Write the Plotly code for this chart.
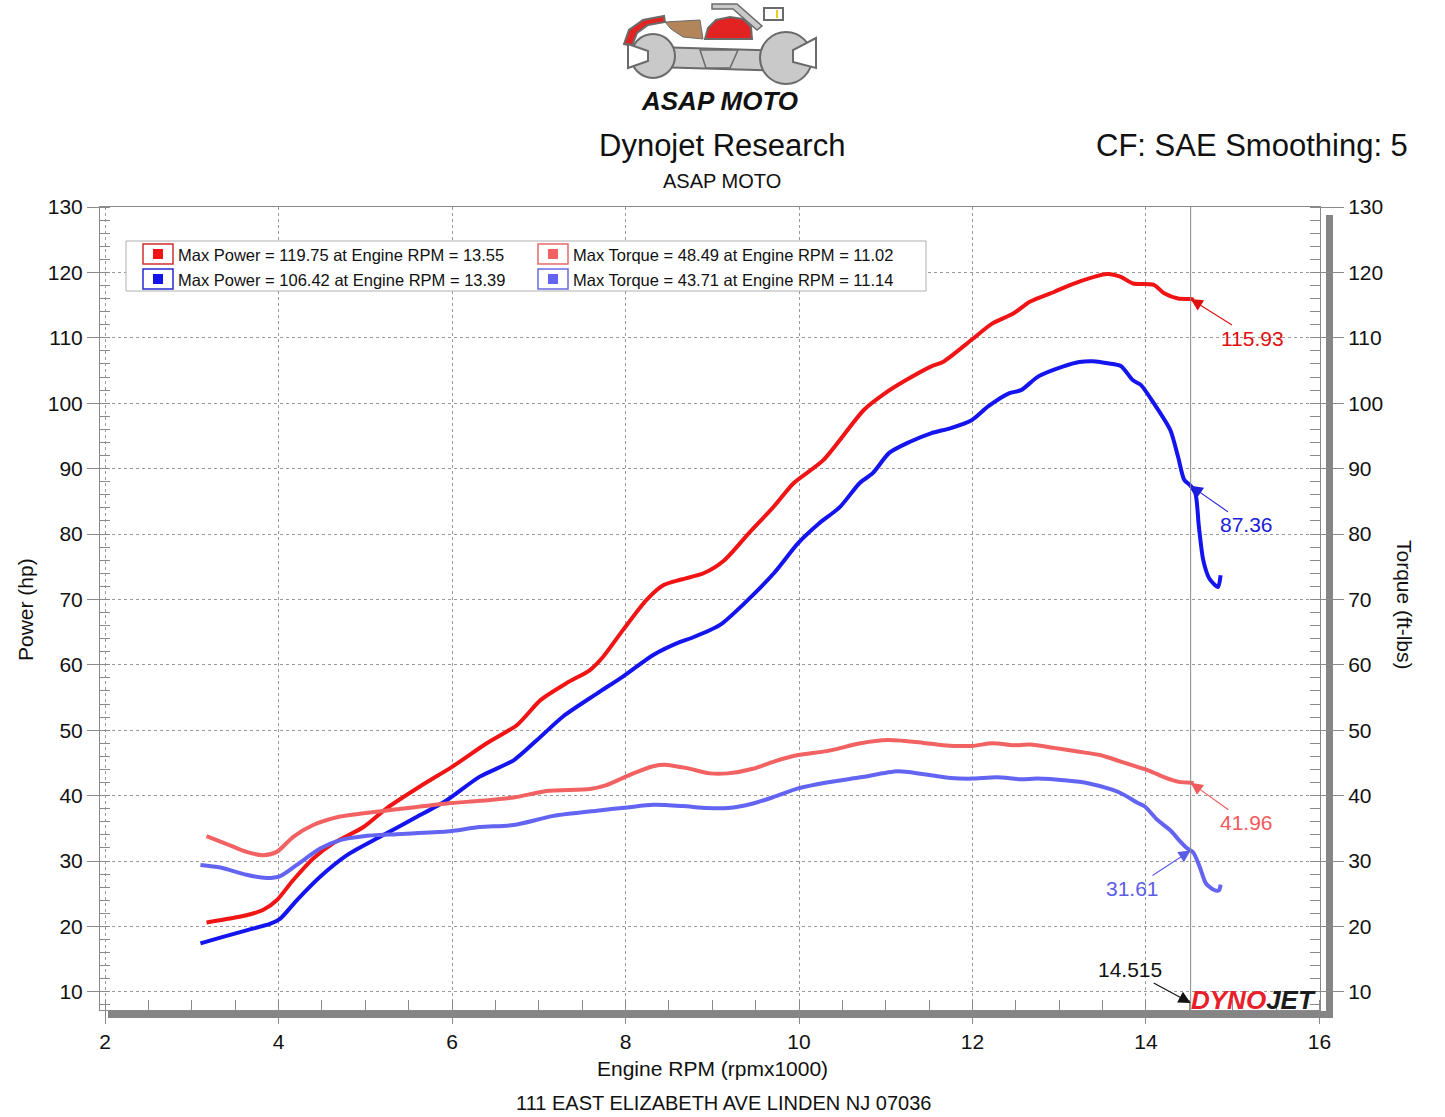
import plotly.graph_objects as go

# ---------------- data ----------------
red_power_rpm = [3.17, 3.44, 3.63, 3.82, 3.98, 4.17, 4.40, 4.63, 4.98, 5.25, 5.63, 6.00, 6.40, 6.75,
                 7.02, 7.32, 7.59, 7.74, 7.97, 8.24, 8.44, 8.63, 8.90, 9.14, 9.42, 9.71, 9.94, 10.28,
                 10.75, 10.99, 11.23, 11.52, 11.66, 11.99, 12.23, 12.47, 12.66, 12.94, 13.13, 13.55,
                 13.71, 13.85, 14.09, 14.21, 14.37, 14.515, 14.55]
red_power_hp = [20.6, 21.2, 21.7, 22.5, 24.0, 27.1, 30.4, 32.7, 35.2, 38.1, 41.4, 44.4, 48.0, 50.8,
                54.6, 57.2, 59.2, 61.2, 65.3, 69.9, 72.2, 73.0, 74.0, 76.0, 80.1, 84.2, 87.8, 91.3,
                99.0, 101.5, 103.5, 105.6, 106.3, 109.7, 112.2, 113.7, 115.5, 117.0, 118.1, 119.75,
                119.3, 118.3, 118.1, 116.8, 116.0, 115.93, 115.8]

blue_power_rpm = [3.10, 3.36, 3.63, 3.90, 4.02, 4.21, 4.48, 4.79, 5.17, 5.56, 5.94, 6.32, 6.71, 6.98,
                  7.28, 7.67, 7.97, 8.32, 8.63, 8.76, 9.09, 9.37, 9.71, 9.99, 10.23, 10.47, 10.70,
                  10.85, 11.04, 11.28, 11.52, 11.75, 11.99, 12.18, 12.42, 12.56, 12.76, 13.04, 13.23,
                  13.39, 13.56, 13.71, 13.85, 13.94, 14.09, 14.28, 14.37, 14.44, 14.515, 14.57, 14.61,
                  14.66, 14.73, 14.83, 14.86]
blue_power_hp = [17.4, 18.4, 19.4, 20.4, 21.2, 24.0, 27.6, 30.9, 33.7, 36.5, 39.3, 42.9, 45.4, 48.5,
                 52.1, 55.6, 58.2, 61.5, 63.5, 64.1, 66.1, 69.4, 74.0, 78.6, 81.6, 84.1, 87.8,
                 89.3, 92.4, 94.1, 95.4, 96.2, 97.4, 99.5, 101.5, 102.0, 104.1, 105.6, 106.3,
                 106.42, 106.1, 105.7, 103.5, 102.8, 100.0, 95.9, 91.8, 88.3, 87.36, 86.2, 81.1,
                 76.0, 73.2, 71.9, 73.7]

red_torque_rpm = [3.17, 3.44, 3.63, 3.82, 3.98, 4.17, 4.40, 4.71, 4.98, 5.36, 5.94, 6.32, 6.71, 7.09,
                  7.59, 7.78, 8.09, 8.32, 8.48, 8.71, 8.97, 9.18, 9.47, 9.71, 9.99, 10.32, 10.71,
                  11.02, 11.42, 11.66, 11.99, 12.23, 12.47, 12.66, 12.94, 13.23, 13.47, 13.71, 13.90,
                  14.04, 14.23, 14.38, 14.515, 14.55]
red_torque_ftlb = [33.8, 32.4, 31.4, 30.9, 31.4, 33.7, 35.5, 36.8, 37.3, 37.9, 38.8, 39.2, 39.7, 40.7,
                   41.0, 41.6, 43.4, 44.5, 44.7, 44.2, 43.4, 43.4, 44.1, 45.2, 46.2, 46.8, 48.0,
                   48.49, 48.1, 47.7, 47.6, 48.0, 47.7, 47.8, 47.3, 46.7, 46.2, 45.2, 44.4,
                   43.8, 42.7, 42.1, 41.96, 41.9]

blue_torque_rpm = [3.10, 3.33, 3.63, 3.86, 4.02, 4.21, 4.48, 4.71, 4.98, 5.36, 5.94, 6.32, 6.71, 7.17,
                   7.67, 8.02, 8.32, 8.66, 8.94, 9.18, 9.47, 9.71, 9.99, 10.32, 10.71, 11.14, 11.42,
                   11.75, 11.99, 12.28, 12.56, 12.75, 13.09, 13.33, 13.61, 13.75, 13.90, 13.99, 14.13,
                   14.28, 14.38, 14.47, 14.515, 14.55, 14.62, 14.69, 14.78, 14.84, 14.86]
blue_torque_ftlb = [29.4, 29.0, 27.9, 27.4, 27.7, 29.4, 31.9, 33.2, 33.8, 34.1, 34.5, 35.2, 35.5, 36.9,
                    37.7, 38.2, 38.6, 38.4, 38.1, 38.1, 38.8, 39.8, 41.1, 42.0, 42.8, 43.71, 43.3,
                    42.7, 42.6, 42.8, 42.5, 42.6, 42.3, 41.9, 40.9, 40.1, 38.9, 38.3, 36.3,
                    34.7, 33.2, 32.0, 31.61, 31.2, 29.1, 26.6, 25.6, 25.5, 26.4]

legend_texts = ["Max Power = 119.75 at Engine RPM = 13.55",
                "Max Power = 106.42 at Engine RPM = 13.39",
                "Max Torque = 48.49 at Engine RPM = 11.02",
                "Max Torque = 43.71 at Engine RPM = 11.14"]

cursor_rpm = 14.515
cursor_values = [115.93, 87.36, 41.96, 31.61]

# ---------------- styling ----------------
C_RED = "#f01414"
C_BLUE = "#1414ee"
C_LRED = "#f26262"
C_LBLUE = "#6464f2"
FONT = "Liberation Sans"

W, H = 1445, 1117
ML, MR, MT, MB = 100, 125, 207, 107
PW, PH = W - ML - MR, H - MT - MB


def pp(px, py):
    return (px - ML) / PW, (MT + PH - py) / PH


def pth(points):
    s = []
    for i, (px, py) in enumerate(points):
        x, y = pp(px, py)
        s.append(("M " if i == 0 else "L ") + f"{x:.5f},{y:.5f}")
    return " ".join(s) + " Z"


fig = go.Figure()
LINE = dict(width=4, shape="spline", smoothing=0.7)
fig.add_trace(go.Scatter(x=red_power_rpm, y=red_power_hp, mode="lines",
                         line=dict(color=C_RED, **LINE), name="Power red", yaxis="y"))
fig.add_trace(go.Scatter(x=blue_power_rpm, y=blue_power_hp, mode="lines",
                         line=dict(color=C_BLUE, **LINE), name="Power blue", yaxis="y"))
fig.add_trace(go.Scatter(x=red_torque_rpm, y=red_torque_ftlb, mode="lines",
                         line=dict(color=C_LRED, **LINE), name="Torque red", yaxis="y2"))
fig.add_trace(go.Scatter(x=blue_torque_rpm, y=blue_torque_ftlb, mode="lines",
                         line=dict(color=C_LBLUE, **LINE), name="Torque blue", yaxis="y2"))

YR = [7.22, 130]
XR = [1.942, 16.006]
GRID = "#9a9a9a"
AX = "#8a8a8a"

fig.update_layout(
    width=W, height=H,
    margin=dict(l=ML, r=MR, t=MT, b=MB, pad=0),
    paper_bgcolor="white", plot_bgcolor="white",
    showlegend=False,
    font=dict(family=FONT, color="#111111", size=21),
    xaxis=dict(range=XR, tick0=2, dtick=2, ticks="outside", ticklen=13, tickcolor=AX,
               showgrid=True, gridcolor=GRID, griddash="dot", gridwidth=1,
               showline=True, linecolor=AX, mirror=True, zeroline=False,
               tickfont=dict(size=21),
               minor=dict(dtick=0.5, ticks="inside", ticklen=10, tickcolor=AX, showgrid=False)),
    yaxis=dict(range=YR, tick0=10, dtick=10, ticks="outside", ticklen=12, tickcolor=AX,
               showgrid=True, gridcolor=GRID, griddash="dot", gridwidth=1,
               showline=True, linecolor=AX, mirror=True, zeroline=False,
               tickfont=dict(size=21),
               minor=dict(dtick=2, ticks="inside", ticklen=10, tickcolor=AX, showgrid=False)),
    yaxis2=dict(range=YR, tick0=10, dtick=10, overlaying="y", side="right",
                ticks="outside", ticklen=23, tickcolor=AX, showgrid=False,
                showline=False, zeroline=False, tickfont=dict(size=21),
                minor=dict(dtick=2, ticks="inside", ticklen=10, tickcolor=AX)),
)

shapes = []
# shadow bars
x0, y0 = pp(108, 1018); x1, y1 = pp(1333, 1011)
shapes.append(dict(type="rect", xref="paper", yref="paper", x0=x0, y0=y0, x1=x1, y1=y1,
                   fillcolor="#858585", line=dict(width=0), layer="below"))
x0, y0 = pp(1326, 1018); x1, y1 = pp(1333, 215)
shapes.append(dict(type="rect", xref="paper", yref="paper", x0=x0, y0=y0, x1=x1, y1=y1,
                   fillcolor="#858585", line=dict(width=0), layer="below"))
# cursor line
shapes.append(dict(type="line", xref="x", yref="paper", x0=cursor_rpm, x1=cursor_rpm, y0=0, y1=1,
                   line=dict(color="#8a8a8a", width=1)))

# legend box
x0, y0 = pp(126, 291); x1, y1 = pp(926, 241)
shapes.append(dict(type="rect", xref="paper", yref="paper", x0=x0, y0=y0, x1=x1, y1=y1,
                   fillcolor="white", line=dict(color="#b0b0b0", width=1), layer="above"))
leg_items = [(143, 244, C_RED, "#d23030"), (143, 269, C_BLUE, "#2a2ad0"),
             (538, 244, C_LRED, "#e46a6a"), (538, 269, C_LBLUE, "#6a6ae4")]
for (bx, by, fill, edge) in leg_items:
    x0, y0 = pp(bx, by + 20); x1, y1 = pp(bx + 30, by)
    shapes.append(dict(type="rect", xref="paper", yref="paper", x0=x0, y0=y0, x1=x1, y1=y1,
                       fillcolor="white", line=dict(color=edge, width=1.5), layer="above"))
    x0, y0 = pp(bx + 10, by + 15); x1, y1 = pp(bx + 20, by + 5)
    shapes.append(dict(type="rect", xref="paper", yref="paper", x0=x0, y0=y0, x1=x1, y1=y1,
                       fillcolor=fill, line=dict(width=0), layer="above"))

# ---- ASAP MOTO logo (approximate drawing) ----
LG = "#c9c9c9"; LE = "#6a6a6a"
# handlebar
shapes.append(dict(type="path", xref="paper", yref="paper",
                   path=pth([(712, 4), (737, 4), (762, 26), (757, 30), (733, 9), (712, 9)]),
                   fillcolor=LG, line=dict(color=LE, width=1.5)))
# headlight
x0, y0 = pp(764, 20); x1, y1 = pp(783, 8)
shapes.append(dict(type="rect", xref="paper", yref="paper", x0=x0, y0=y0, x1=x1, y1=y1,
                   fillcolor="white", line=dict(color=LE, width=2)))
x0, y0 = pp(776, 18); x1, y1 = pp(778, 10)
shapes.append(dict(type="rect", xref="paper", yref="paper", x0=x0, y0=y0, x1=x1, y1=y1,
                   fillcolor="#e8d020", line=dict(width=0)))
# fender (outer grey arc + red)
shapes.append(dict(type="path", xref="paper", yref="paper",
                   path=pth([(624, 44), (629, 30), (643, 20), (664, 16), (665, 22), (648, 25),
                             (637, 33), (632, 46)]),
                   fillcolor="#e32222", line=dict(color=LE, width=2)))
# seat
shapes.append(dict(type="path", xref="paper", yref="paper",
                   path=pth([(665, 22), (700, 20), (703, 39), (683, 37), (671, 29)]),
                   fillcolor="#b3855a", line=dict(color=LE, width=1)))
# tank
shapes.append(dict(type="path", xref="paper", yref="paper",
                   path=pth([(705, 39), (708, 28), (716, 20), (730, 17), (743, 19), (751, 27),
                             (752, 39)]),
                   fillcolor="#e32222", line=dict(color=LE, width=2)))
# wrench shaft
shapes.append(dict(type="path", xref="paper", yref="paper",
                   path=pth([(655, 47), (785, 51), (785, 71), (655, 67)]),
                   fillcolor=LG, line=dict(color=LE, width=2)))
# wrench jaws
for (cx, cy, r) in [(653, 56, 22), (786, 58, 26)]:
    x0, y0 = pp(cx - r, cy + r); x1, y1 = pp(cx + r, cy - r)
    shapes.append(dict(type="circle", xref="paper", yref="paper", x0=x0, y0=y0, x1=x1, y1=y1,
                       fillcolor=LG, line=dict(color=LE, width=2)))
shapes.append(dict(type="path", xref="paper", yref="paper",
                   path=pth([(628, 44), (648, 51), (648, 61), (628, 68)]),
                   fillcolor="white", line=dict(color=LE, width=2)))
shapes.append(dict(type="path", xref="paper", yref="paper",
                   path=pth([(816, 38), (793, 50), (793, 62), (816, 68)]),
                   fillcolor="white", line=dict(color=LE, width=2)))
# engine detail
shapes.append(dict(type="path", xref="paper", yref="paper",
                   path=pth([(700, 50), (738, 50), (730, 68), (706, 68)]),
                   fillcolor=LG, line=dict(color=LE, width=1.5)))

fig.update_layout(shapes=shapes)

ann = []


def txt(px, py, text, size, color="#111111", xanchor="center", angle=0, family=FONT):
    x, y = pp(px, py)
    ann.append(dict(xref="paper", yref="paper", x=x, y=y, text=text, showarrow=False,
                    xanchor=xanchor, yanchor="middle", textangle=angle,
                    font=dict(family=family, size=size, color=color)))


txt(719, 101, "<b><i>ASAP MOTO</i></b>", 26)
txt(722, 146, "Dynojet Research", 31)
txt(1252, 146, "CF: SAE Smoothing: 5", 31)
txt(722, 181, "ASAP MOTO", 20)
txt(25, 610, "Power (hp)", 21, angle=-90)
txt(1405, 605, "Torque (ft-lbs)", 21, angle=90)
txt(712, 1068, "Engine RPM (rpmx1000)", 21)
txt(723, 1103, "111 EAST ELIZABETH AVE LINDEN NJ 07036", 20)

txt(176, 255, legend_texts[0], 16.5, xanchor="left")
txt(176, 280, legend_texts[1], 16.5, xanchor="left")
txt(571, 255, legend_texts[2], 16.5, xanchor="left")
txt(571, 280, legend_texts[3], 16.5, xanchor="left")

txt(1253, 1000, "<b><i><span style='color:#e8202a'>DYNO</span>"
                "<span style='color:#1c1c1c'>JET</span></i></b>", 26)

# cursor value call-outs
callouts = [
    ("y", cursor_values[0], 62, 39, "#e01010", "#e01010"),
    ("y", cursor_values[1], 56, 39, "#2020d8", "#2020d8"),
    ("y2", cursor_values[2], 56, 40, "#f05a5a", "#f05a5a"),
    ("y2", cursor_values[3], -58, 38, "#5c5ce8", "#5c5ce8"),
]
for yref, val, ax, ay, tcol, hcol in callouts:
    ann.append(dict(xref="x", yref=yref, x=cursor_rpm, y=val, text=f"{val:.2f}",
                    showarrow=True, arrowhead=2, arrowsize=2.2, arrowwidth=1.1,
                    arrowcolor=hcol, ax=ax, ay=ay, standoff=0,
                    font=dict(family=FONT, size=21, color=tcol)))
ann.append(dict(xref="x", yref="y", x=cursor_rpm, y=8.3, text=f"{cursor_rpm:.3f}",
                showarrow=True, arrowhead=2, arrowsize=2.2, arrowwidth=1.1,
                arrowcolor="#111111", ax=-61, ay=-33, standoff=0,
                font=dict(family=FONT, size=21, color="#111111")))

fig.update_layout(annotations=ann)

fig.write_html("out.html", config={"displayModeBar": False},
               post_script="document.body.style.margin='0';document.body.style.overflow='hidden';")
